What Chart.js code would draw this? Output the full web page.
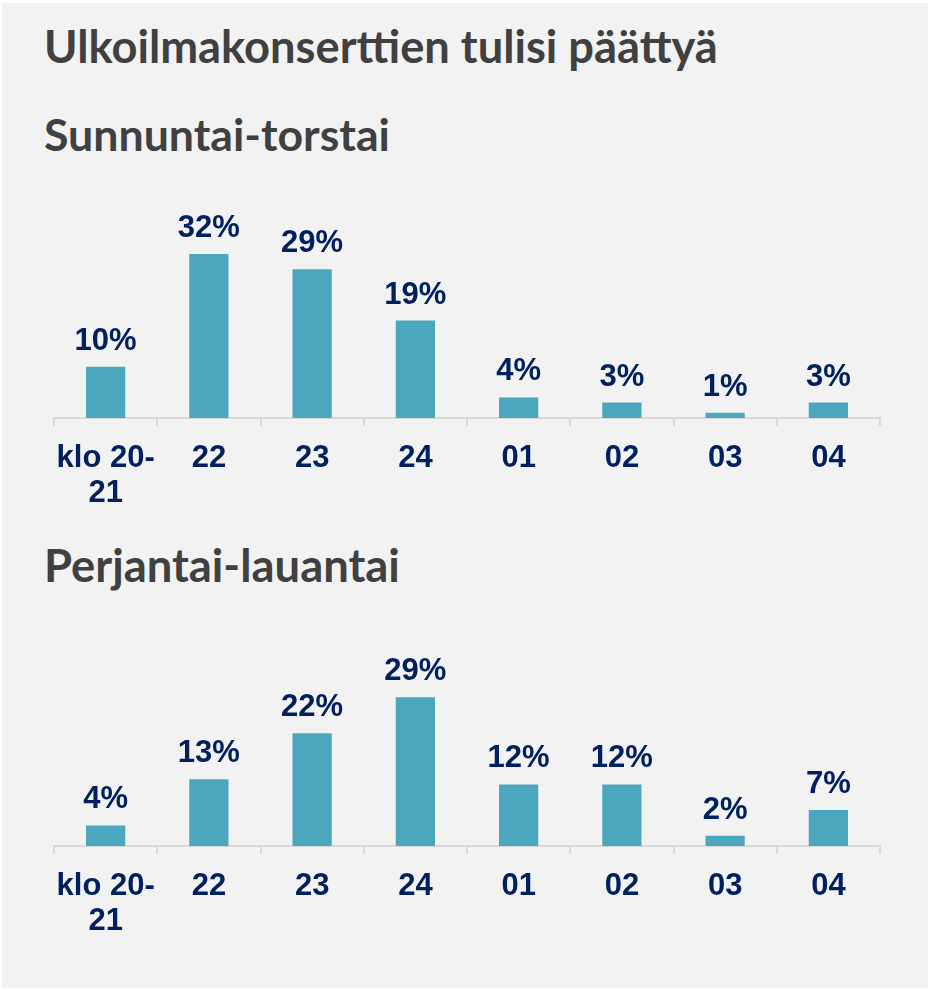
<!DOCTYPE html>
<html><head><meta charset="utf-8">
<script src="https://cdn.jsdelivr.net/npm/chart.js@4.4.1/dist/chart.umd.min.js"></script>
<style>
html,body{margin:0;padding:0;background:#fff;width:928px;height:990px;overflow:hidden;}
#frame{position:absolute;left:2px;top:3px;width:926px;height:985px;background:#f2f2f2;}
.h{position:absolute;left:44px;font-family:Lato,'Open Sans',sans-serif;font-weight:700;color:#404040;line-height:1;white-space:nowrap;margin:0}
.c{position:absolute;left:0;width:928px;}
</style></head><body>
<div id="frame"></div>
<div class="h" id="t0">Ulkoilmakonserttien tulisi päättyä</div>
<div class="h" id="t1">Sunnuntai-torstai</div>
<div class="h" id="t2">Perjantai-lauantai</div>
<div class="c" style="top:190px;height:336px"><canvas id="c1"></canvas></div>
<div class="c" style="top:618px;height:336px"><canvas id="c2"></canvas></div>
<script>
const categories = [['klo 20-','21'],'22','23','24','01','02','03','04'];
const sunThu = [10,32,29,19,4,3,1,3];
const friSat = [4,13,22,29,12,12,2,7];

function fit(id, target, baseline){
  const el=document.getElementById(id);
  const ctx=document.createElement('canvas').getContext('2d');
  ctx.font='bold 100px Lato';
  const m=ctx.measureText(el.textContent);
  const F=100*target/m.width;
  const a=(m.fontBoundingBoxAscent||98.7)/100*F, d=(m.fontBoundingBoxDescent||24.6)/100*F;
  el.style.fontSize=F+'px';
  el.style.top=(baseline-((F-(a+d))/2+a))+'px';
}
fit('t0',674,63);
fit('t1',346,152);
fit('t2',356,582);

const FONT='"Liberation Sans", Arial, sans-serif';
const labelPlugin={
  id:'vals',
  afterDatasetsDraw(chart){
    const ctx=chart.ctx;
    const meta=chart.getDatasetMeta(0);
    const data=chart.data.datasets[0].data;
    ctx.save();
    ctx.font='bold 31px '+FONT;
    ctx.fillStyle='#002060';
    ctx.textAlign='center';
    ctx.textBaseline='alphabetic';
    meta.data.forEach((bar,i)=>{ctx.fillText(data[i]+'%',bar.x,bar.y-17);});
    ctx.restore();
  }
};
function make(id, values){
  new Chart(document.getElementById(id),{
    type:'bar',
    data:{labels:categories,datasets:[{data:values,backgroundColor:'#4BA7BE',categoryPercentage:1,barPercentage:0.38}]},
    options:{
      responsive:true,maintainAspectRatio:false,animation:false,
      layout:{padding:{left:54,right:48,top:23,bottom:0}},
      plugins:{legend:{display:false},tooltip:{enabled:false}},
      scales:{
        y:{display:false,min:0,max:40},
        x:{grid:{drawOnChartArea:false,color:'#d9d9d9',lineWidth:2,tickLength:8,offset:true},
           border:{color:'#d9d9d9',width:2},
           ticks:{color:'#002060',font:{family:FONT,size:31,weight:'bold',lineHeight:1.13},padding:15,maxRotation:0,autoSkip:false}}
      }
    },
    plugins:[labelPlugin]
  });
}
make('c1',sunThu);
make('c2',friSat);
</script>
</body></html>
